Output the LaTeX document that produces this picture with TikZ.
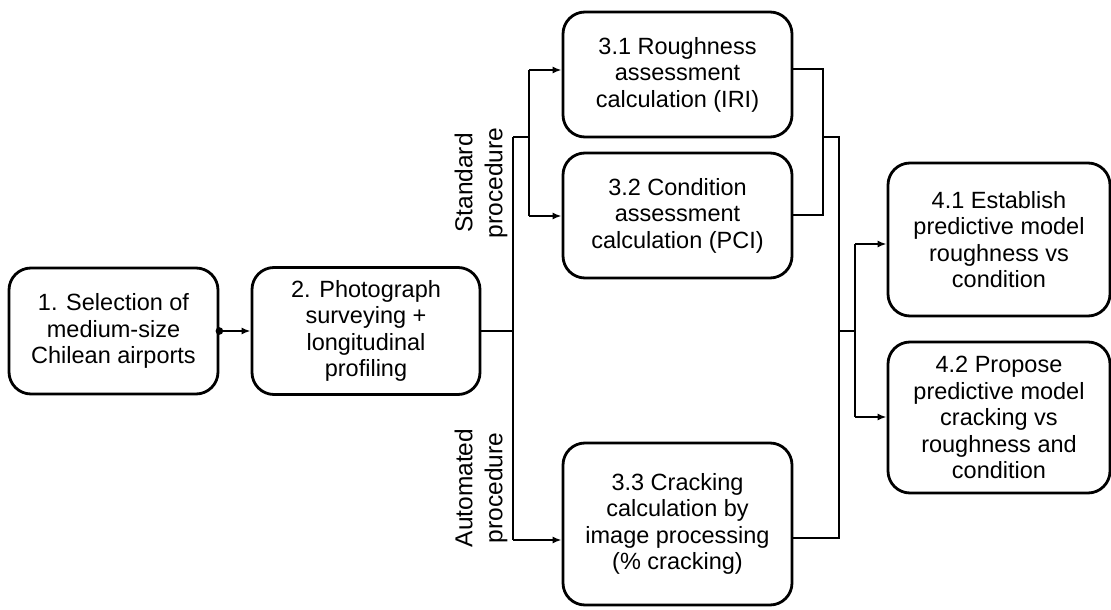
\documentclass[tikz,border=0pt]{standalone}
\usepackage{fontspec}
\setmainfont{Liberation Sans}
\usetikzlibrary{arrows.meta}
\begin{document}
\begin{tikzpicture}[x=1pt,y=1pt,
  box/.style={draw, line width=2.8pt, rounded corners=22pt, align=center,
    font=\fontsize{23.5}{26.5}\selectfont, inner sep=0pt},
  conn/.style={line width=1.9pt},
  arr/.style={conn, -{Latex[length=9pt,width=7pt]}},
  lab/.style={rotate=90, align=center, font=\fontsize{24.5}{30}\selectfont}]
\useasboundingbox (0,0) rectangle (1111,-610);
\node[box, minimum width=209, minimum height=126] (b1) at (113.5,-331) {1. Selection of\\medium-size\\Chilean airports};
\node[box, minimum width=228, minimum height=127] (b2) at (366,-331) {2. Photograph\\surveying +\\longitudinal\\profiling};
\node[box, minimum width=229, minimum height=125] (b31) at (677.5,-74.5) {3.1 Roughness\\assessment\\calculation (IRI)};
\node[box, minimum width=229, minimum height=125] (b32) at (677.5,-215.5) {3.2 Condition\\assessment\\calculation (PCI)};
\node[box, minimum width=229, minimum height=162] (b33) at (677.5,-524) {3.3 Cracking\\calculation by\\image processing\\(\% cracking)};
\node[box, minimum width=222, minimum height=153] (b41) at (999,-239.5) {4.1 Establish\\predictive model\\roughness vs\\condition};
\node[box, minimum width=222, minimum height=151] (b42) at (999,-417.5) {4.2 Propose\\predictive model\\cracking vs\\roughness and\\condition};
\node[lab] (ls) at (481,-183) {Standard\\procedure};
\node[lab] (la) at (481,-488) {Automated\\procedure};
% left junctions
\coordinate (ja) at (513,-137);
\coordinate (jb) at (513,-540);
\coordinate (jc) at (529,-137);
\coordinate (k31) at (529,-70);
\coordinate (k32) at (529,-216);
% right junctions
\coordinate (r31) at (823,-69);
\coordinate (r32) at (823,-215);
\coordinate (rm) at (823,-137);
\coordinate (sa) at (839,-137);
\coordinate (sb) at (839,-538);
\coordinate (sm) at (839,-331);
\coordinate (t1) at (855,-244);
\coordinate (t2) at (855,-417);
\coordinate (tm) at (855,-331);
% connectors
\draw[arr] (b1.east) -- (b2.west);
\fill (b1.east) circle (3.8pt);
\draw[conn] (b2.east) -- (b2.east -| ja);
\draw[conn] (ja) -- (jb);
\draw[conn] (ja) -- (jc);
\draw[conn] (k31) -- (k32);
\draw[arr] (k31) -- (k31 -| b31.west);
\draw[arr] (k32) -- (k32 -| b32.west);
\draw[arr] (jb) -- (jb -| b33.west);
\draw[conn] (r31 -| b31.east) -- (r31) -- (r32) -- (r32 -| b32.east);
\draw[conn] (rm) -- (sa) -- (sb) -- (sb -| b33.east);
\draw[conn] (sm) -- (tm);
\draw[conn] (t1) -- (t2);
\draw[arr] (t1) -- (t1 -| b41.west);
\draw[arr] (t2) -- (t2 -| b42.west);
\end{tikzpicture}
\end{document}
